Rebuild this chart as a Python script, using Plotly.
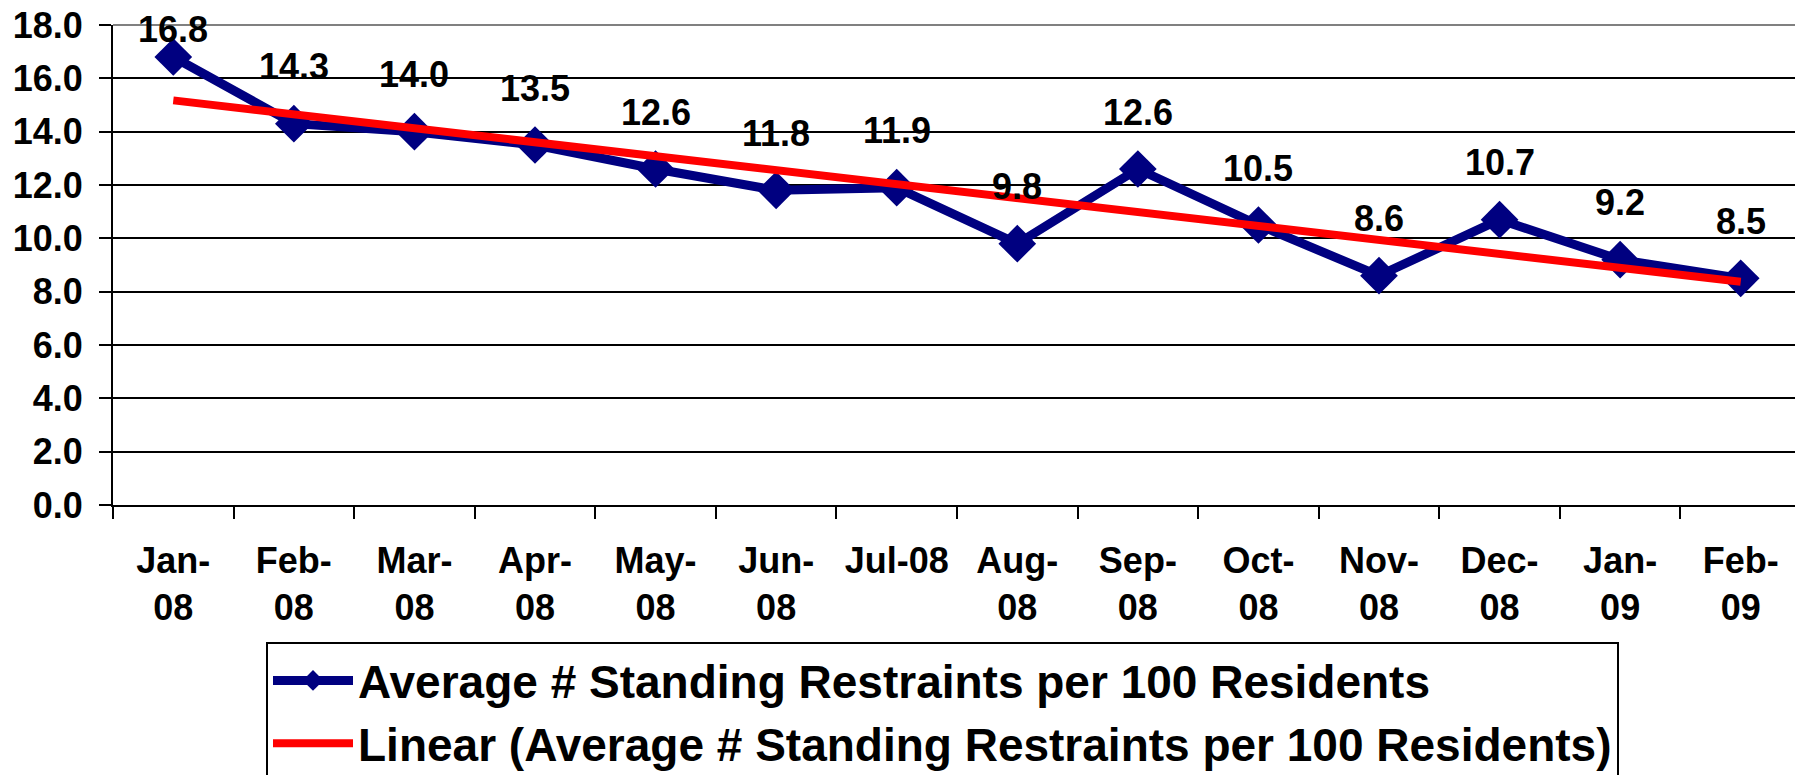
import numpy as np
import plotly.graph_objects as go

categories = ["Jan-<br>08", "Feb-<br>08", "Mar-<br>08", "Apr-<br>08", "May-<br>08", "Jun-<br>08",
              "Jul-08", "Aug-<br>08", "Sep-<br>08", "Oct-<br>08", "Nov-<br>08", "Dec-<br>08",
              "Jan-<br>09", "Feb-<br>09"]
values = [16.8, 14.3, 14.0, 13.5, 12.6, 11.8, 11.9, 9.8, 12.6, 10.5, 8.6, 10.7, 9.2, 8.5]
series_name = "Average # Standing Restraints per 100 Residents"
trend_name = "Linear (Average # Standing Restraints per 100 Residents)"
y_ticks = [0, 2, 4, 6, 8, 10, 12, 14, 16, 18]

# linear trendline (least squares, as Excel does)
idx = np.arange(len(values))
slope, intercept = np.polyfit(idx, values, 1)
trend = list(slope * idx + intercept)

FONT = "Liberation Sans, Arial, sans-serif"

fig = go.Figure()
fig.add_trace(go.Scatter(
    x=categories, y=values, name=series_name, mode="lines+markers",
    line=dict(color="#000080", width=9),
    marker=dict(symbol="diamond", size=29, color="#000080"),
))
fig.add_trace(go.Scatter(
    x=categories, y=trend, name=trend_name, mode="lines",
    line=dict(color="#FF0000", width=8),
))

for i, (c, v) in enumerate(zip(categories, values)):
    fig.add_annotation(
        x=c, y=v, text=f"{v:.1f}", showarrow=False,
        yshift=28 if i == 0 else 57, yanchor="middle", xanchor="center",
        font=dict(family=FONT, size=36, color="black", weight="bold"),
    )

# gray plot-area border (top & right)
fig.add_shape(type="line", xref="paper", yref="paper", x0=0, x1=1, y0=1, y1=1,
              line=dict(color="#808080", width=2), layer="above")
fig.add_shape(type="line", xref="paper", yref="paper", x0=1, x1=1, y0=0, y1=1,
              line=dict(color="#808080", width=2), layer="above")

fig.update_layout(
    width=1795, height=767,
    margin=dict(l=105, r=2, t=17, b=270, autoexpand=False),
    paper_bgcolor="white", plot_bgcolor="white",
    font=dict(family=FONT, color="black", weight="bold"),
    showlegend=True,
    legend=dict(
        x=(266 - 113) / 1688, y=(505 - 642) / 480, xanchor="left", yanchor="top",
        bordercolor="black", borderwidth=2, bgcolor="white",
        font=dict(family=FONT, size=46, color="black", weight="bold"),
        itemwidth=80,
    ),
    xaxis=dict(
        type="category", range=[-0.5, 13.5], automargin=False,
        showline=True, linecolor="black", linewidth=2,
        ticks="outside", tickson="boundaries", ticklen=12, tickwidth=2, tickcolor="black",
        showgrid=False,
        tickfont=dict(family=FONT, size=36, color="black", weight="bold"),
        ticklabelstandoff=23, ticklabeloverflow="allow",
    ),
    yaxis=dict(
        range=[0, 18], tickvals=y_ticks, tickformat=".1f", automargin=False,
        showline=True, linecolor="black", linewidth=2,
        ticks="outside", ticklen=12, tickwidth=2, tickcolor="black",
        showgrid=True, gridcolor="black", gridwidth=2,
        zeroline=False,
        tickfont=dict(family=FONT, size=36, color="black", weight="bold"),
        ticklabelstandoff=9, ticklabeloverflow="allow",
    ),
)

fig.write_html("out.html")
